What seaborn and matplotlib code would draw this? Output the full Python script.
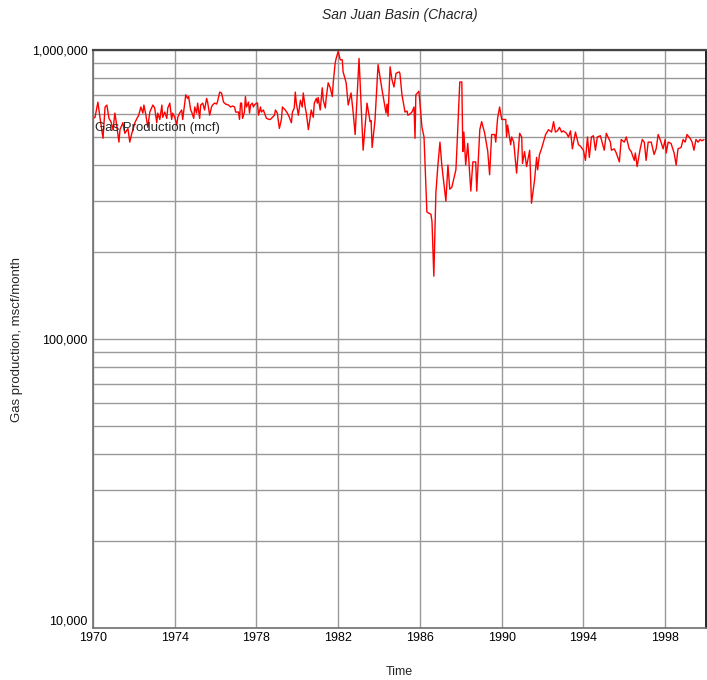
import numpy as np
import pandas as pd
import matplotlib
matplotlib.use("Agg")
import matplotlib.pyplot as plt
import seaborn as sns
from matplotlib.ticker import FixedLocator, FuncFormatter, LogLocator, NullFormatter

# %% data: time in decimal years, gas production in thousand mcf
years = [
    1970.00, 1970.10, 1970.24, 1970.34, 1970.49, 1970.59, 1970.68, 1970.78, 1970.88, 1970.98,
    1971.07, 1971.12, 1971.27, 1971.32, 1971.46, 1971.56, 1971.71, 1971.80, 1971.90, 1972.05,
    1972.15, 1972.24, 1972.34, 1972.44, 1972.49, 1972.59, 1972.68, 1972.78, 1972.93, 1973.02,
    1973.12, 1973.17, 1973.27, 1973.37, 1973.41, 1973.51, 1973.61, 1973.66, 1973.76, 1973.85,
    1973.90, 1974.00, 1974.10, 1974.15, 1974.24, 1974.34, 1974.39, 1974.54, 1974.63, 1974.68,
    1974.78, 1974.83, 1974.93, 1974.98, 1975.07, 1975.12, 1975.22, 1975.27, 1975.37, 1975.46,
    1975.56, 1975.61, 1975.71, 1975.80, 1975.85, 1975.95, 1976.05, 1976.10, 1976.20, 1976.29,
    1976.39, 1976.49, 1976.63, 1976.73, 1976.83, 1976.93, 1976.98, 1977.12, 1977.17, 1977.22,
    1977.27, 1977.32, 1977.41, 1977.46, 1977.51, 1977.61, 1977.66, 1977.71, 1977.80, 1977.85,
    1977.90, 1978.00, 1978.05, 1978.10, 1978.20, 1978.24, 1978.34, 1978.39, 1978.49, 1978.63,
    1978.68, 1978.78, 1978.88, 1978.93, 1979.02, 1979.12, 1979.22, 1979.27, 1979.41, 1979.51,
    1979.61, 1979.71, 1979.76, 1979.85, 1979.90, 1979.95, 1980.05, 1980.15, 1980.24, 1980.29,
    1980.39, 1980.44, 1980.54, 1980.63, 1980.68, 1980.78, 1980.83, 1980.93, 1980.98, 1981.02,
    1981.12, 1981.22, 1981.27, 1981.37, 1981.41, 1981.51, 1981.61, 1981.71, 1981.76, 1981.85,
    1981.90, 1982.00, 1982.10, 1982.20, 1982.24, 1982.39, 1982.49, 1982.63, 1982.73, 1982.83,
    1983.02, 1983.22, 1983.41, 1983.56, 1983.61, 1983.66, 1983.80, 1983.95, 1984.15, 1984.34,
    1984.39, 1984.44, 1984.54, 1984.63, 1984.73, 1984.83, 1984.98, 1985.02, 1985.12, 1985.27,
    1985.37, 1985.41, 1985.51, 1985.61, 1985.71, 1985.76, 1985.80, 1985.95, 1986.10, 1986.20,
    1986.34, 1986.54, 1986.59, 1986.68, 1986.78, 1986.88, 1986.98, 1987.07, 1987.27, 1987.37,
    1987.46, 1987.56, 1987.76, 1987.80, 1987.95, 1988.05, 1988.10, 1988.15, 1988.24, 1988.34,
    1988.49, 1988.59, 1988.73, 1988.78, 1988.93, 1989.02, 1989.17, 1989.32, 1989.41, 1989.51,
    1989.66, 1989.71, 1989.80, 1989.90, 1990.00, 1990.20, 1990.24, 1990.29, 1990.44, 1990.49,
    1990.59, 1990.73, 1990.88, 1990.98, 1991.02, 1991.12, 1991.22, 1991.37, 1991.46, 1991.61,
    1991.71, 1991.76, 1991.85, 1991.95, 1992.15, 1992.29, 1992.44, 1992.54, 1992.63, 1992.73,
    1992.83, 1992.93, 1993.02, 1993.17, 1993.27, 1993.37, 1993.46, 1993.61, 1993.76, 1993.85,
    1994.00, 1994.10, 1994.20, 1994.29, 1994.39, 1994.49, 1994.59, 1994.68, 1994.83, 1994.88,
    1995.02, 1995.12, 1995.32, 1995.37, 1995.51, 1995.61, 1995.76, 1995.85, 1996.00, 1996.10,
    1996.24, 1996.34, 1996.49, 1996.54, 1996.63, 1996.78, 1996.88, 1996.98, 1997.07, 1997.17,
    1997.32, 1997.46, 1997.56, 1997.66, 1997.80, 1997.90, 1998.00, 1998.05, 1998.15, 1998.29,
    1998.44, 1998.54, 1998.63, 1998.78, 1998.88, 1998.98, 1999.07, 1999.22, 1999.32, 1999.41,
    1999.51, 1999.61, 1999.71, 1999.80, 1999.90,
]
gas_k = [
    580, 585, 660, 585, 495, 635, 645, 580, 565, 530,
    605, 575, 480, 530, 560, 515, 535, 480, 515, 560,
    580, 595, 635, 605, 645, 595, 540, 610, 645, 630,
    560, 605, 575, 645, 585, 610, 580, 630, 655, 575,
    605, 585, 550, 585, 605, 620, 575, 700, 680, 690,
    620, 610, 580, 635, 605, 655, 580, 645, 655, 620,
    680, 660, 595, 635, 645, 655, 650, 665, 715, 710,
    660, 650, 645, 635, 640, 635, 610, 610, 575, 655,
    655, 580, 610, 690, 635, 660, 605, 645, 655, 635,
    645, 655, 655, 595, 635, 610, 620, 605, 580, 575,
    575, 585, 595, 620, 605, 535, 575, 635, 620, 605,
    585, 560, 610, 630, 715, 655, 595, 670, 635, 710,
    630, 605, 530, 585, 620, 585, 655, 680, 655, 685,
    620, 740, 670, 630, 680, 770, 740, 690, 775, 900,
    935, 990, 925, 925, 840, 770, 645, 710, 610, 510,
    935, 450, 655, 565, 570, 460, 570, 890, 725, 605,
    650, 590, 875, 790, 745, 830, 840, 830, 700, 610,
    615, 595, 600, 610, 635, 495, 700, 720, 540, 500,
    275, 270, 255, 165, 320, 400, 480, 400, 300, 400,
    330, 335, 385, 440, 775, 775, 445, 520, 400, 475,
    325, 410, 410, 325, 530, 565, 515, 445, 370, 510,
    510, 480, 580, 635, 575, 575, 500, 550, 470, 500,
    480, 375, 515, 500, 405, 445, 395, 450, 295, 355,
    425, 385, 435, 455, 510, 530, 520, 565, 520, 525,
    540, 520, 525, 515, 500, 525, 455, 520, 470, 465,
    450, 415, 500, 425, 500, 505, 450, 500, 505, 490,
    450, 515, 480, 450, 455, 440, 410, 490, 480, 500,
    455, 445, 415, 440, 395, 455, 490, 480, 415, 480,
    480, 435, 455, 510, 480, 455, 490, 440, 480, 475,
    440, 400, 455, 460, 490, 480, 510, 495, 480, 450,
    490, 480, 490, 485, 490,
]
x_ticks = [1970, 1974, 1978, 1982, 1986, 1990, 1994, 1998]
y_ticks = [1e4, 1e5, 1e6]

df = pd.DataFrame({"Time": years, "gas": np.array(gas_k) * 1000.0})

# %% plot
sns.set_style("white")
plt.rcParams["font.family"] = ["Liberation Sans", "DejaVu Sans"]

fig = plt.figure(figsize=(7.07, 6.80), dpi=100)
ax = fig.add_axes([93 / 707, 1 - 628 / 680, 613 / 707, 578 / 680])

sns.lineplot(data=df, x="Time", y="gas", color="red", lw=1, ax=ax, estimator=None, sort=False)

ax.set_yscale("log")
ax.set_xlim(1970, 2000)
ax.set_ylim(1e4, 1e6)

ax.xaxis.set_major_locator(FixedLocator(x_ticks))
ax.yaxis.set_major_locator(FixedLocator(y_ticks))
ax.yaxis.set_major_formatter(FuncFormatter(lambda v, p: f"{int(round(v)):,}"))
ax.yaxis.set_minor_locator(LogLocator(base=10, subs=np.arange(2, 10)))
ax.yaxis.set_minor_formatter(NullFormatter())

ax.grid(True, which="major", axis="both", color="#999999", lw=1)
ax.grid(True, which="minor", axis="y", color="#999999", lw=1)
ax.set_axisbelow(True)

ax.tick_params(axis="both", which="both", length=0, labelsize=9, colors="black")
ax.tick_params(axis="y", pad=4)
ax.tick_params(axis="x", pad=3)

for side in ["left", "bottom"]:
    ax.spines[side].set_color("#707070")
    ax.spines[side].set_linewidth(1.2)
ax.spines["top"].set_color("#444444")
ax.spines["top"].set_linewidth(1.6)
ax.spines["right"].set_color("black")
ax.spines["right"].set_linewidth(1.2)

ax.set_xlabel("Time", fontsize=9, labelpad=16)
ax.set_ylabel("Gas production, mscf/month", fontsize=9.5, labelpad=6)
fig.text(400 / 707, 1 - 15 / 680, "San Juan Basin (Chacra)", ha="center", va="center",
         fontsize=10, style="italic")

# legend entry shown as plain text inside the plot
ax.text(0.003, 0.865, "Gas Production (mcf)", transform=ax.transAxes, fontsize=9.5,
        ha="left", va="center")

# lowest y label sits just above the bottom edge
fig.canvas.draw()
ax.get_yticklabels()[0].set_va("bottom")

fig.savefig("out.png", dpi=100)
plt.close("all")
